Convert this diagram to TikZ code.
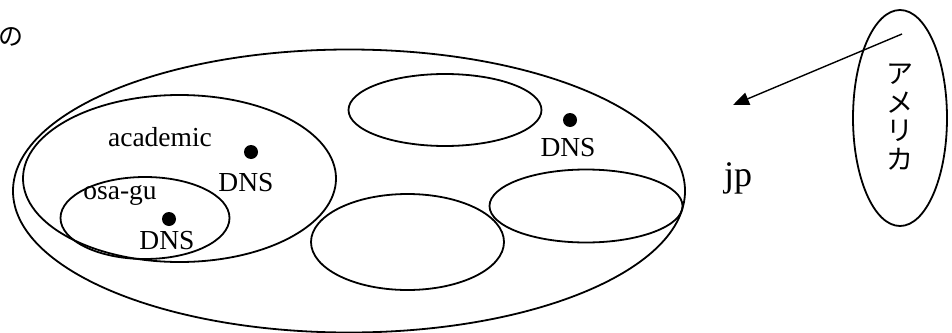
\documentclass[tikz,border=0pt]{standalone}
\usepackage{fontspec}
\setmainfont{Liberation Serif}
\newfontfamily\jpfont{Noto Sans CJK JP}
\usetikzlibrary{shapes.geometric, arrows.meta}

\begin{document}
\begin{tikzpicture}[%
        x = 1pt,
        y = -1pt,
        line width = 1.8pt,
        > = {Triangle[length = 16pt, width = 13pt]},
        zone/.style = {
            draw = black,
            ellipse,
            inner sep = 0pt
        },
        dnsdot/.style = {
            circle,
            fill = black,
            inner sep = 0pt,
            minimum size = 14pt
        },
        lbl/.style = {
            font = \fontsize{27.5}{30}\selectfont,
            inner sep = 0pt
        }
    ]

        \useasboundingbox (0, 0) rectangle (952, 332);

        % The jp domain and its subdomains.
        \node[zone, minimum width = 672pt, minimum height = 283pt] at (349, 191) (jp) {};
        \node[zone, minimum width = 313pt, minimum height = 167pt] at (179.5, 178.5) (ac) {};
        \node[zone, minimum width = 169pt, minimum height = 82pt] at (145, 218) (osa) {};
        \node[zone, minimum width = 193pt, minimum height = 72pt] at (445, 110) (sub1) {};
        \node[zone, minimum width = 193pt, minimum height = 96pt] at (407.5, 242) (sub2) {};
        \node[zone, minimum width = 193pt, minimum height = 73pt] at (586, 206) (sub3) {};

        % Name servers.
        \node[dnsdot] at (570, 120) (d1) {};
        \node[lbl] at (568, 148) (t1) {DNS};
        \node[dnsdot] at (251, 152) (d2) {};
        \node[lbl] at (246, 183) (t2) {DNS};
        \node[dnsdot] at (169, 219) (d3) {};
        \node[lbl] at (167, 241) (t3) {DNS};

        % Domain labels.
        \node[lbl] at (160, 137) (acl) {academic};
        \node[lbl] at (120, 195) (osal) {osa-gu};
        \node[font = \fontsize{36}{40}\selectfont, inner sep = 0pt] at (738, 178) (jpl) {jp};

        % America, outside jp.
        \node[zone, minimum width = 94pt, minimum height = 216pt] at (900, 118) (us) {};
        \node[font = \jpfont\fontsize{27}{28.5}\selectfont, align = center, inner sep = 0pt]
            at (900, 117) (usl) {ア\\メ\\リ\\カ};

        % Stray character at the top left.
        \node[font = \jpfont\fontsize{25}{26}\selectfont, inner sep = 0pt] at (11, 37) (no) {の};

        % Arrow from America towards jp.
        \coordinate (a) at (902, 34);
        \coordinate (b) at (733, 105);
        \draw[->, line width = 1.4pt] (a) -- (b);
    \end{tikzpicture}
\end{document}
